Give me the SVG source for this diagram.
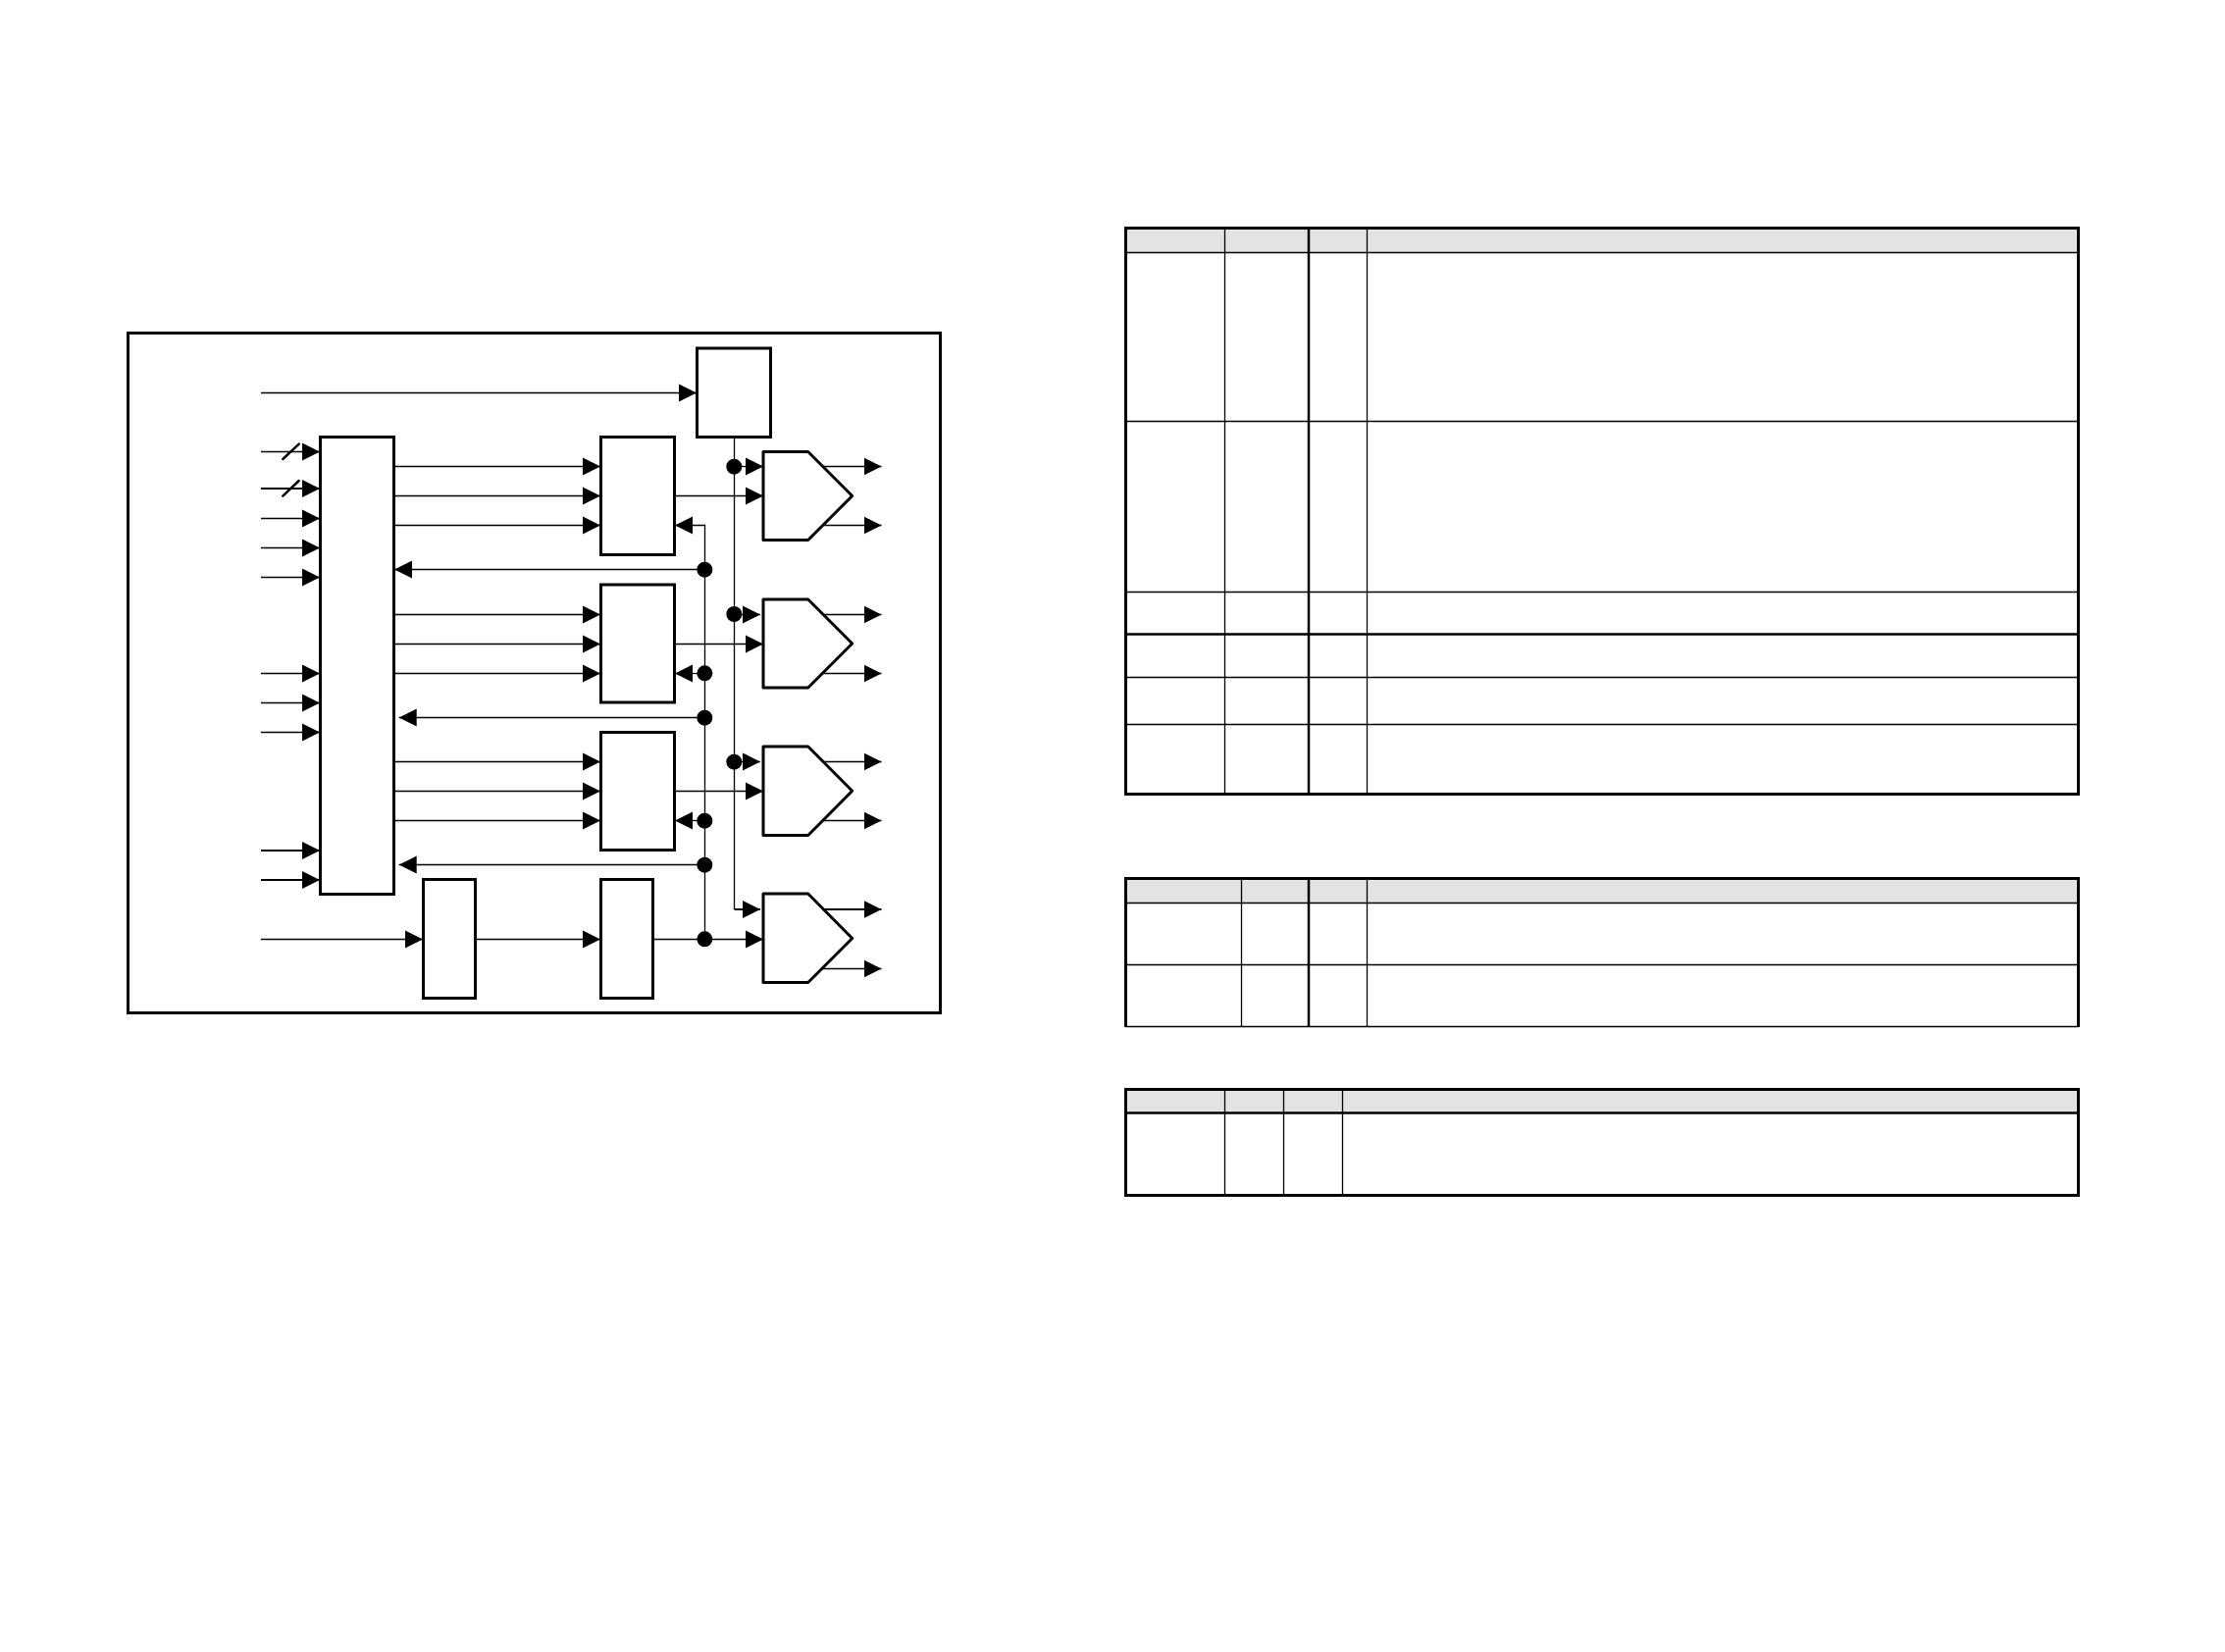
<svg xmlns="http://www.w3.org/2000/svg" width="2268" height="1684" viewBox="0 0 2268 1684">
<style>
.bg{fill:#fff}
.box{fill:#fff;stroke:#000;stroke-width:3}
.pent{fill:#fff;stroke:#000;stroke-width:3;stroke-linejoin:round}
.frame{fill:none;stroke:#000;stroke-width:3}
.w{fill:none;stroke:#000;stroke-width:1.3}
.a{marker-end:url(#arr)}
.tk{stroke-width:2}
.tick{stroke:#000;stroke-width:2.5;stroke-linecap:round}
.dot{fill:#000}
.hdr{fill:#e3e3e3}
.tl{fill:none;stroke:#000;stroke-width:1.3}
.tm{fill:none;stroke:#000;stroke-width:2.5}
.tb{fill:none;stroke:#000;stroke-width:3}
</style>
<defs>
<marker id="arr" markerUnits="userSpaceOnUse" markerWidth="19" markerHeight="20" refX="18" refY="9.5" orient="auto">
<path d="M0 .5L18 9.5L0 18.5Z" fill="#000"/>
</marker>
</defs>
<rect class="bg" width="2268" height="1684"/>
<rect id="frame" class="frame" x="130.5" y="339.5" width="828" height="693"/>
<g id="connectors">
<path class="w a" d="M266 400.5H710"/>
<path class="w a" d="M266 460.5H326"/>
<path class="w a tk" d="M266 498H326"/>
<path class="w a" d="M266 528.5H326"/>
<path class="w a" d="M266 558.5H326"/>
<path class="w a" d="M266 588.5H326"/>
<path class="w a" d="M266 686.5H326"/>
<path class="w a" d="M266 716.5H326"/>
<path class="w a" d="M266 746.5H326"/>
<path class="w a tk" d="M266 867H326"/>
<path class="w a tk" d="M266 897H326"/>
<path class="w a" d="M266 957.5H431"/>
<line class="tick" x1="288.3" y1="468" x2="304.7" y2="452.7"/>
<line class="tick" x1="288.3" y1="505.7" x2="304.7" y2="490"/>
<path class="w a" d="M402 475.5H612"/>
<path class="w a" d="M402 505.5H612"/>
<path class="w a" d="M402 535.5H612"/>
<path class="w a" d="M402 626.5H612"/>
<path class="w a" d="M402 656.5H612"/>
<path class="w a" d="M402 686.5H612"/>
<path class="w a" d="M402 776.5H612"/>
<path class="w a" d="M402 806.5H612"/>
<path class="w a" d="M402 836.5H612"/>
<path class="w a" d="M718.5 580.5H402"/>
<path class="w a" d="M718.5 731.5H406.7"/>
<path class="w a" d="M718.5 881.5H406.7"/>
<path class="w a" d="M484.5 957.5H612"/>
<path class="w" d="M718.5 957.5V535.5H706"/>
<path class="w a" d="M706 535.5H688"/>
<path class="w a" d="M718.5 686.5H688"/>
<path class="w a" d="M718.5 836.5H688"/>
<path class="w" d="M748.5 445V927"/>
<path class="w a tk" d="M748.5 927H775"/>
<path class="w a" d="M748.5 475.5H778"/>
<path class="w a" d="M748.5 626.5H775"/>
<path class="w a" d="M748.5 776.5H775"/>
<path class="w a" d="M688 505.5H778"/>
<path class="w a" d="M688 656.5H778"/>
<path class="w a" d="M688 806.5H778"/>
<path class="w a" d="M665.5 957.5H778"/>
<path class="w a" d="M839 475.5H898.5"/>
<path class="w a" d="M839 535.5H898.5"/>
<path class="w a" d="M839 626.5H898.5"/>
<path class="w a" d="M839 686.5H898.5"/>
<path class="w a" d="M839 776.5H898.5"/>
<path class="w a" d="M839 836.5H898.5"/>
<path class="w a tk" d="M838 927H898.5"/>
<path class="w a" d="M838 987.5H898.5"/>
<circle class="dot" cx="748.3" cy="475.7" r="8"/>
<circle class="dot" cx="748.3" cy="626" r="8"/>
<circle class="dot" cx="748.3" cy="776.7" r="8"/>
<circle class="dot" cx="718.3" cy="580.7" r="8"/>
<circle class="dot" cx="718.3" cy="686.3" r="8"/>
<circle class="dot" cx="718.3" cy="731.7" r="8"/>
<circle class="dot" cx="718.3" cy="836.7" r="8"/>
<circle class="dot" cx="718.3" cy="881.7" r="8"/>
<circle class="dot" cx="718.3" cy="957.3" r="8"/>
</g>
<g id="block-main"><rect class="box" x="326.5" y="445.5" width="75" height="466"/></g>
<g id="block-top"><rect class="box" x="710.5" y="355" width="75" height="90.5"/></g>
<g id="block-a"><rect class="box" x="612.5" y="445.5" width="75" height="120"/></g>
<g id="block-b"><rect class="box" x="612.5" y="596" width="75" height="120"/></g>
<g id="block-c"><rect class="box" x="612.5" y="746.5" width="75" height="120"/></g>
<g id="block-d"><rect class="box" x="612.5" y="896.5" width="53" height="121"/></g>
<g id="block-e"><rect class="box" x="431.5" y="896.5" width="53" height="121"/></g>
<g id="pent-1"><path class="pent" d="M778 460.5H823.7L868.7 505.5L823.7 550.5H778Z"/></g>
<g id="pent-2"><path class="pent" d="M778 611H823.7L868.7 656L823.7 701H778Z"/></g>
<g id="pent-3"><path class="pent" d="M778 761H823.7L868.7 806.2L823.7 851.5H778Z"/></g>
<g id="pent-4"><path class="pent" d="M778 911H823.7L868.7 956.5L823.7 1001.5H778Z"/></g>
<g id="table-1">
<rect class="hdr" x="1147.5" y="232.5" width="971" height="25"/>
<path class="tl" d="M1147.5 257.5H2118.5M1147.5 429.5H2118.5M1147.5 603.5H2118.5M1147.5 690.5H2118.5M1147.5 738.5H2118.5M1248.5 232.5V809.5M1393.5 232.5V809.5"/>
<path class="tm" d="M1147.5 646.5H2118.5M1334 232.5V809.5"/>
<rect class="tb" x="1147.5" y="232.5" width="971" height="577"/>
</g>
<g id="table-2">
<rect class="hdr" x="1147.5" y="895.5" width="971" height="25"/>
<path class="tl" d="M1147.5 920.5H2118.5M1147.5 983.5H2118.5M1147.5 1046.5H2118.5M1265.5 895.5V1046.5M1393.5 895.5V1046.5"/>
<path class="tm" d="M1334 895.5V1046.5"/>
<path class="tb" d="M1147.5 1047V895.5H2118.5V1047"/>
</g>
<g id="table-3">
<rect class="hdr" x="1147.5" y="1110.5" width="971" height="24"/>
<path class="tl" d="M1248.5 1110.5V1218.5M1308.5 1110.5V1218.5M1368.5 1110.5V1218.5"/>
<path class="tm" d="M1147.5 1134.5H2118.5"/>
<rect class="tb" x="1147.5" y="1110.5" width="971" height="108"/>
</g>
</svg>
